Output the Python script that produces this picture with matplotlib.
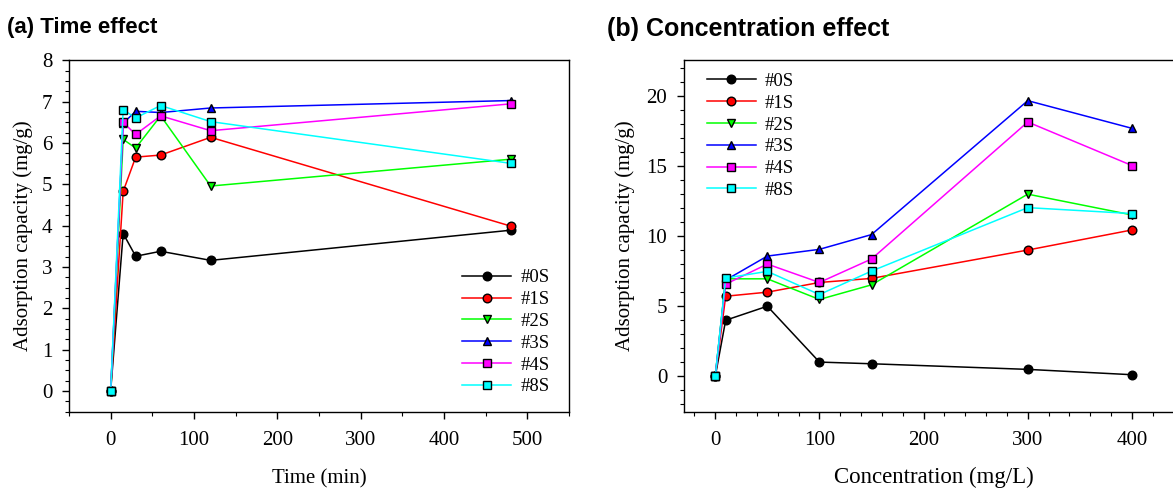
import matplotlib
matplotlib.use("Agg")
import matplotlib.pyplot as plt
from matplotlib.ticker import MultipleLocator

samples = ["#0S", "#1S", "#2S", "#3S", "#4S", "#8S"]
colors = ["black", "red", "#00ff00", "blue", "magenta", "cyan"]
markers = ["o", "o", "v", "^", "s", "s"]

# (a) time effect
time_min = [0, 15, 30, 60, 120, 480]
time_q = {
    "#0S": [0, 3.81, 3.26, 3.38, 3.16, 3.89],
    "#1S": [0, 4.83, 5.66, 5.71, 6.14, 3.99],
    "#2S": [0, 6.09, 5.88, 6.66, 4.96, 5.61],
    "#3S": [0, 6.48, 6.77, 6.74, 6.85, 7.03],
    "#4S": [0, 6.50, 6.21, 6.66, 6.30, 6.95],
    "#8S": [0, 6.81, 6.61, 6.91, 6.52, 5.51],
}

# (b) concentration effect
conc = [0, 10, 50, 100, 150, 300, 400]
conc_q = {
    "#0S": [0, 4.0, 5.0, 1.02, 0.9, 0.5, 0.12],
    "#1S": [0, 5.71, 6.0, 6.69, 6.98, 9.0, 10.43],
    "#2S": [0, 6.95, 6.95, 5.48, 6.52, 12.98, 11.5],
    "#3S": [0, 6.86, 8.57, 9.05, 10.1, 19.64, 17.67],
    "#4S": [0, 6.57, 8.0, 6.69, 8.36, 18.12, 15.02],
    "#8S": [0, 7.0, 7.48, 5.83, 7.5, 12.02, 11.6],
}

plt.rcParams['font.family'] = ['Liberation Serif', 'DejaVu Serif']

W, H = 1173, 488
fig = plt.figure(figsize=(W / 100, H / 100), dpi=100)

ax1 = fig.add_axes([69 / W, (H - 411.5) / H, 500 / W, 351 / H])
ax2 = fig.add_axes([684 / W, (H - 411.5) / H, 500 / W, 351 / H])


def draw(ax, x, data):
    for s, c, m in zip(samples, colors, markers):
        ax.plot(x, data[s], color=c, marker=m, markersize=6.2, markerfacecolor=c,
                markeredgecolor="black", markeredgewidth=1, linewidth=1.1, label=s)
    ax.tick_params(which="major", direction="out", length=5, width=1, labelsize=15)
    ax.tick_params(which="minor", direction="out", length=3, width=0.8)
    ax.tick_params(axis="x", which="major", pad=9)
    ax.tick_params(axis="y", which="major", pad=7)
    for sp in ax.spines.values():
        sp.set_linewidth(1)


draw(ax1, time_min, time_q)
ax1.set_xlim(-50, 550)
ax1.set_ylim(-0.5, 8)
ax1.xaxis.set_major_locator(MultipleLocator(100))
ax1.xaxis.set_minor_locator(MultipleLocator(50))
ax1.yaxis.set_major_locator(MultipleLocator(1))
ax1.yaxis.set_minor_locator(MultipleLocator(0.25))
ax1.set_xlabel("Time (min)", fontsize=15, labelpad=14)
ax1.set_ylabel("Adsorption capacity (mg/g)", fontsize=15, labelpad=6)
ax1.legend(loc="lower right", bbox_to_anchor=(0.995, -0.002), frameon=False, fontsize=13.5,
           handlelength=2.6, labelspacing=0.25, handletextpad=0.5)

draw(ax2, conc, conc_q)
ax2.set_xlim(-30, 450)
ax2.set_ylim(-2.5, 22.5)
ax2.xaxis.set_major_locator(MultipleLocator(100))
ax2.xaxis.set_minor_locator(MultipleLocator(20))
ax2.yaxis.set_major_locator(MultipleLocator(5))
ax2.yaxis.set_minor_locator(MultipleLocator(1))
ax2.set_xlabel("Concentration (mg/L)", fontsize=16.5, labelpad=12)
ax2.set_ylabel("Adsorption capacity (mg/g)", fontsize=15, labelpad=8)
ax2.legend(loc="upper left", bbox_to_anchor=(0.012, 1.013), frameon=False, fontsize=13.5,
           handlelength=2.6, labelspacing=0.25, handletextpad=0.5)

fig.text(7 / W, 1 - 28 / H, "(a) Time effect", fontsize=16, fontweight="bold",
         family=["Liberation Sans", "DejaVu Sans"], va="center", ha="left")
fig.text(607 / W, 1 - 29 / H, "(b) Concentration effect", fontsize=18, fontweight="bold",
         family=["Liberation Sans", "DejaVu Sans"], va="center", ha="left")

fig.savefig("out.png", dpi=100)
